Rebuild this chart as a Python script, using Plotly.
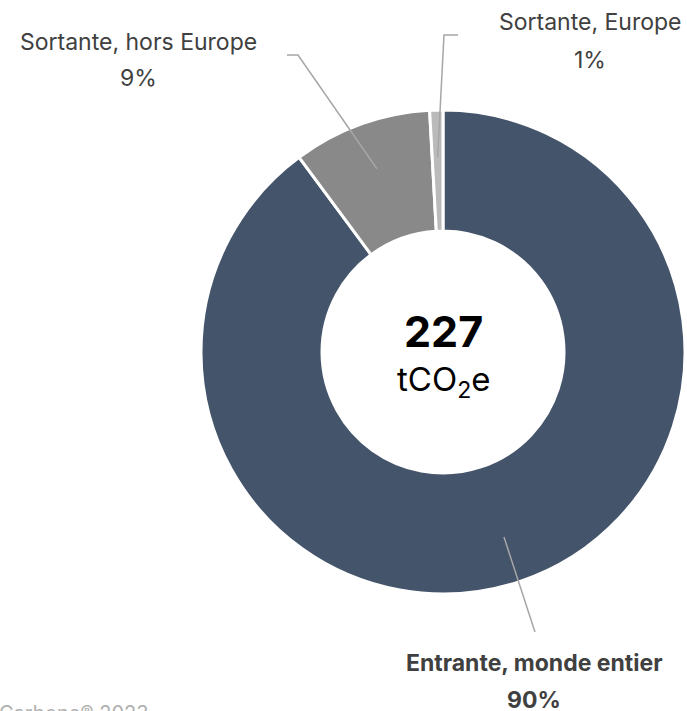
import math
import plotly.graph_objects as go

# ---- data ----
labels = ["Entrante, monde entier", "Sortante, hors Europe", "Sortante, Europe"]
values = [204, 21, 2]
colors = ["#44546A", "#898989", "#BABABA"]
unit_label = "tCO<sub>2</sub>e"
footer = "Carbone® 2023"

W, H = 687, 711
cx, cy, R = 443, 352, 242  # pie centre / radius in px


def px(x):
    return x / W


def py(y):
    return 1 - y / H


fig = go.Figure(go.Pie(
    labels=labels,
    values=values,
    marker=dict(colors=colors, line=dict(color="white", width=3)),
    hole=0.5,
    sort=False,
    direction="clockwise",
    rotation=0,
    textinfo="none",
    hoverinfo="label+percent",
    showlegend=False,
    domain=dict(x=[px(cx - R), px(cx + R)], y=[py(cy + R), py(cy - R)]),
))

total = sum(values)
pcts = [round(v / total * 100) for v in values]

# mid angles (clockwise from top)
mids = []
acc = 0
for v in values:
    mids.append((acc + v / 2) / total * 2 * math.pi)
    acc += v


def polar(theta, r):
    return cx + r * math.sin(theta), cy - r * math.cos(theta)


line_col = "#A6A6A6"
layout_info = [
    dict(end=[(535, 632)], text=(534, 663), pct=(534, 700), bold=True),
    dict(end=[(298, 55), (287, 55)], text=(138, 42), pct=(138, 78), bold=False),
    dict(end=[(444, 35), (458, 35)], text=(590, 22), pct=(590, 60), bold=False),
]

shapes = []
annotations = []
for i, info in enumerate(layout_info):
    pts = [polar(mids[i], 0.805 * R)] + info["end"]
    path = "M " + " L ".join(f"{px(x)},{py(y)}" for x, y in pts)
    shapes.append(dict(type="path", xref="paper", yref="paper", path=path,
                       line=dict(color=line_col, width=1.5)))
    lab = labels[i]
    pct = f"{pcts[i]}%"
    if info["bold"]:
        lab, pct = f"<b>{lab}</b>", f"<b>{pct}</b>"
    for txt, (x, y) in ((lab, info["text"]), (pct, info["pct"])):
        annotations.append(dict(text=txt, x=px(x), y=py(y), xref="paper", yref="paper",
                                xanchor="center", yanchor="middle", showarrow=False,
                                font=dict(size=23, color="#404040")))

annotations.append(dict(text=f"<b>{total}</b>", x=px(cx), y=py(331), xref="paper", yref="paper",
                        xanchor="center", yanchor="middle", showarrow=False,
                        font=dict(size=43, color="#000000")))
annotations.append(dict(text=unit_label, x=px(cx), y=py(381), xref="paper", yref="paper",
                        xanchor="center", yanchor="middle", showarrow=False,
                        font=dict(size=33, color="#000000")))
annotations.append(dict(text=footer, x=px(-3), y=py(699), xref="paper", yref="paper",
                        xanchor="left", yanchor="top", showarrow=False,
                        font=dict(size=20, color="#B0B0B0")))

fig.update_layout(
    width=W, height=H,
    margin=dict(l=0, r=0, t=0, b=0),
    paper_bgcolor="white", plot_bgcolor="white",
    font=dict(family="Inter, Lato, sans-serif"),
    shapes=shapes,
    annotations=annotations,
)

fig.write_html("out.html", config={"displayModeBar": False},
               post_script="document.body.style.margin='0';document.body.style.overflow='hidden';")
